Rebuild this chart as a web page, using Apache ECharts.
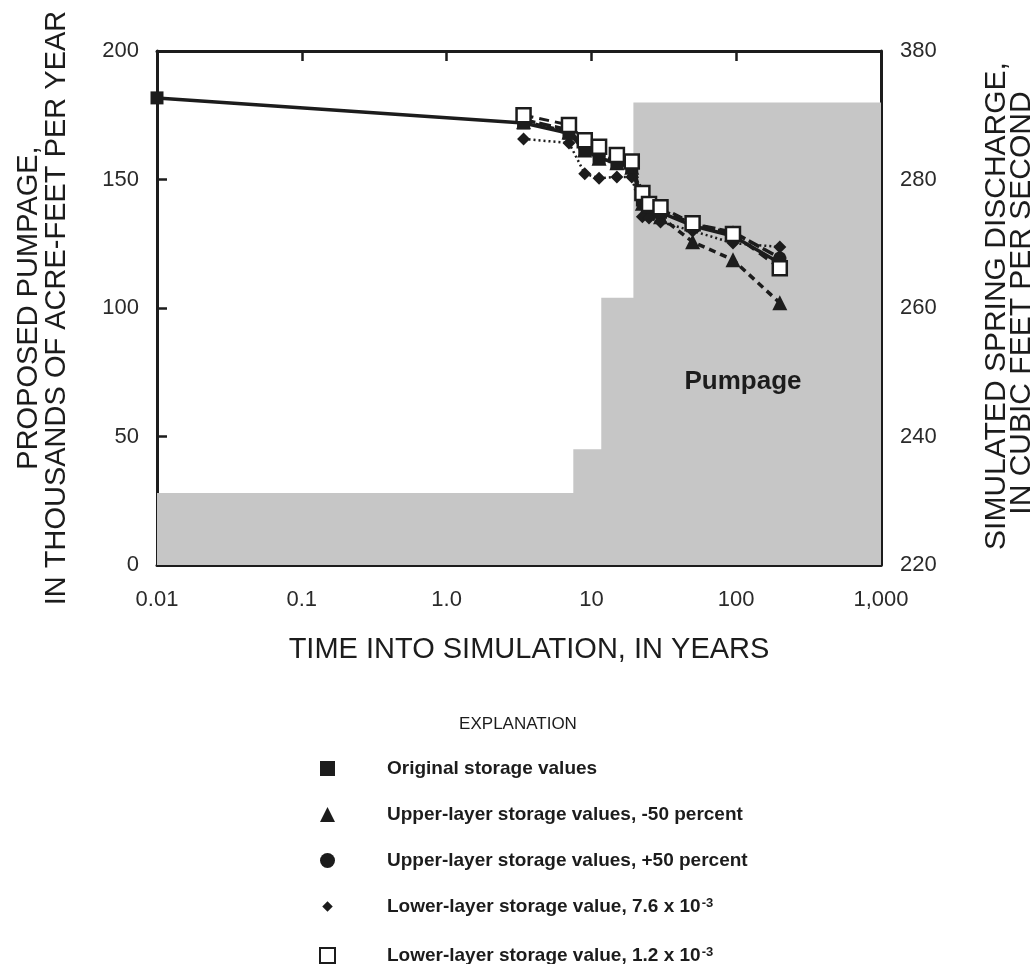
<!DOCTYPE html>
<html><head><meta charset="utf-8">
<script src="https://cdn.jsdelivr.net/npm/echarts@6/dist/echarts.min.js"></script>
<style>html,body{margin:0;padding:0;background:#fff}#c{width:1036px;height:964px}</style>
</head><body><div id="c"></div>
<script>
// ---- data ----
const xTickLabels = ['0.01', '0.1', '1.0', '10', '100', '1,000'];
const leftTickLabels = ['0', '50', '100', '150', '200'];
const rightTickLabels = ['220', '240', '260', '280', '380'];

// proposed pumpage (thousands of acre-feet per year), step changes
const pumpYears = [0.01, 7.5, 11.7, 19.5, 1000];
const pumpLevels = [28, 45, 104, 180, 180];

// simulated spring discharge
const simYears = [3.4, 7, 9, 11.3, 15, 19, 22.5, 25, 30, 50, 95, 200];
const originalStartYear = 0.01;
const originalStartValue = 292.7;
const originalValues = [288.8, 287.2, 284.6, 283.3, 282.6, 281.9, 276.8, 275.7, 274.9, 272.8, 271.2, 267.0];
const upperMinus50 = [289.0, 287.4, 284.6, 283.3, 282.6, 281.9, 276.3, 275.3, 274.2, 270.3, 267.5, 260.8];
const upperPlus50 = [289.3, 287.7, 284.9, 283.7, 282.9, 282.3, 277.1, 276.0, 275.3, 273.1, 271.8, 267.8];
const lower76 = [286.3, 285.7, 280.9, 280.2, 280.4, 280.4, 274.2, 274.0, 273.4, 272.0, 270.1, 269.5];
const lower12 = [290.0, 288.5, 286.1, 285.1, 283.8, 282.8, 277.9, 276.2, 275.7, 273.2, 271.5, 266.2];

const seriesNames = [
  'Original storage values',
  'Upper-layer storage values, -50 percent',
  'Upper-layer storage values, +50 percent',
  'Lower-layer storage value, 7.6 x 10-3',
  'Lower-layer storage value, 1.2 x 10-3'
];

// ---- build ----
const zip = (xs, ys) => xs.map((x, i) => [x, ys[i]]);
const INK = '#1c1c1c';
const FONT = '"Liberation Sans", Arial, Helvetica, sans-serif';
const TITLE_FONT = '29px ' + FONT;

const chart = echarts.init(document.getElementById('c'), null, {renderer: 'canvas'});

const axisLineStyle = {lineStyle: {color: INK, width: 3}};
const tickStyle = {show: true, inside: true, length: 10, lineStyle: {color: INK, width: 2.5}};

const option = {
  backgroundColor: '#fff',
  animation: false,
  textStyle: {fontFamily: FONT},
  grid: {left: 157, right: 155, top: 51, bottom: 399, containLabel: false},
  title: {
    text: 'EXPLANATION', left: 'center', top: 711,
    textStyle: {fontFamily: FONT, fontSize: 17, fontWeight: 'normal', color: INK}
  },
  xAxis: [{
    type: 'log', logBase: 10, min: 0.01, max: 1000,
    axisLine: axisLineStyle, axisTick: tickStyle,
    minorTick: {show: false}, splitLine: {show: false},
    axisLabel: {
      margin: 24, fontSize: 22, color: '#2a2a2a', fontFamily: FONT,
      formatter: v => xTickLabels[Math.round(Math.log10(v)) + 2]
    }
  }, {
    type: 'log', logBase: 10, min: 0.01, max: 1000, position: 'top',
    axisLine: axisLineStyle, axisTick: tickStyle,
    axisLabel: {show: false}, splitLine: {show: false}
  }],
  yAxis: [{
    type: 'value', min: 0, max: 200, interval: 50, position: 'left',
    axisLine: {show: true, lineStyle: {color: INK, width: 3}}, axisTick: tickStyle,
    splitLine: {show: false},
    axisLabel: {
      margin: 18, fontSize: 22, color: '#2a2a2a', fontFamily: FONT,
      formatter: v => leftTickLabels[Math.round(v / 50)]
    }
  }, {
    type: 'value', min: 220, max: 300, interval: 20, position: 'right',
    axisLine: {show: true, lineStyle: {color: INK, width: 3}}, axisTick: tickStyle,
    splitLine: {show: false},
    axisLabel: {
      margin: 19, fontSize: 22, color: '#2a2a2a', fontFamily: FONT,
      formatter: v => rightTickLabels[Math.round((v - 220) / 20)]
    }
  }],
  legend: {
    orient: 'vertical', left: 314, top: 754, height: 220, itemGap: 27,
    itemWidth: 15, itemHeight: 15,
    selectedMode: false,
    data: [
      {name: seriesNames[0], icon: 'rect'},
      {name: seriesNames[1], icon: 'triangle'},
      {name: seriesNames[2], icon: 'circle'},
      {name: seriesNames[3], icon: 'path://M0,0 M20,20 M10,3 L17,10 L10,17 L3,10 Z'},
      {name: seriesNames[4], icon: 'rect'}
    ],
    formatter: name => {
      if (name.endsWith(' 10-3')) {
        return '{b|' + name.slice(0, -2) + '}{s|-3}';
      }
      return '{b|' + name + '}';
    },
    textStyle: {
      color: INK, padding: [0, 0, 0, 47],
      rich: {
        b: {fontFamily: FONT, fontSize: 19, fontWeight: 'bold', color: INK, lineHeight: 19},
        s: {fontFamily: FONT, fontSize: 13, fontWeight: 'bold', color: INK, lineHeight: 13, verticalAlign: 'top', padding: [0, 0, 9, 1]}
      }
    }
  },
  graphic: [
    {type: 'text', x: 29, y: 308, rotation: Math.PI / 2,
      style: {text: 'PROPOSED PUMPAGE,', font: TITLE_FONT, fill: INK, textAlign: 'center', textVerticalAlign: 'middle'}},
    {type: 'text', x: 57, y: 308, rotation: Math.PI / 2,
      style: {text: 'IN THOUSANDS OF ACRE-FEET PER YEAR', font: TITLE_FONT, fill: INK, textAlign: 'center', textVerticalAlign: 'middle'}},
    {type: 'text', x: 997, y: 306, rotation: Math.PI / 2,
      style: {text: 'SIMULATED SPRING DISCHARGE,', font: '30px ' + FONT, fill: INK, textAlign: 'center', textVerticalAlign: 'middle'}},
    {type: 'text', x: 1022, y: 303, rotation: Math.PI / 2,
      style: {text: 'IN CUBIC FEET PER SECOND', font: '30px ' + FONT, fill: INK, textAlign: 'center', textVerticalAlign: 'middle'}},
    {type: 'text', x: 529, y: 650,
      style: {text: 'TIME INTO SIMULATION, IN YEARS', font: TITLE_FONT, fill: INK, textAlign: 'center', textVerticalAlign: 'middle'}},
    {type: 'text', x: 743, y: 382, z: 5,
      style: {text: 'Pumpage', font: 'bold 26px ' + FONT, fill: INK, textAlign: 'center', textVerticalAlign: 'middle'}}
  ],
  series: [
    {
      name: 'Pumpage', type: 'line', xAxisIndex: 0, yAxisIndex: 0, step: 'end',
      data: zip(pumpYears, pumpLevels), symbol: 'none',
      lineStyle: {width: 0, color: '#c6c6c6'},
      areaStyle: {color: '#c6c6c6', opacity: 1},
      z: 1, silent: true
    },
    {
      name: seriesNames[1], type: 'line', yAxisIndex: 1,
      data: zip(simYears, upperMinus50),
      symbol: 'triangle', symbolSize: 15,
      lineStyle: {color: INK, width: 3.5, type: [7, 5]},
      itemStyle: {color: INK}, z: 3
    },
    {
      name: seriesNames[2], type: 'line', yAxisIndex: 1,
      data: zip(simYears, upperPlus50),
      symbol: 'circle', symbolSize: 13,
      lineStyle: {color: INK, width: 3.5, type: [12, 4]},
      itemStyle: {color: INK}, z: 3
    },
    {
      name: seriesNames[3], type: 'line', yAxisIndex: 1,
      data: zip(simYears, lower76),
      symbol: 'diamond', symbolSize: 13,
      lineStyle: {color: INK, width: 2.5, type: [2, 3]},
      itemStyle: {color: INK}, z: 4
    },
    {
      name: seriesNames[0], type: 'line', yAxisIndex: 1,
      data: [[originalStartYear, originalStartValue]].concat(zip(simYears, originalValues)),
      symbol: 'rect', symbolSize: 13,
      lineStyle: {color: INK, width: 3.5, type: 'solid'},
      itemStyle: {color: INK}, z: 5
    },
    {
      name: seriesNames[4], type: 'line', yAxisIndex: 1,
      data: zip(simYears, lower12),
      symbol: 'rect', symbolSize: 14,
      lineStyle: {color: INK, width: 3, type: [10, 6]},
      itemStyle: {color: '#ffffff', borderColor: INK, borderWidth: 2.5}, z: 6
    }
  ]
};
chart.setOption(option);
</script>
</body></html>
